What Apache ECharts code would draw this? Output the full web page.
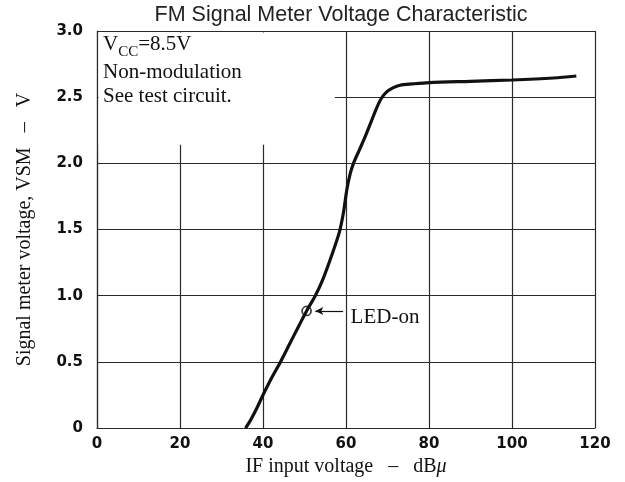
<!DOCTYPE html>
<html>
<head>
<meta charset="utf-8">
<script src="https://cdn.jsdelivr.net/npm/echarts@6/dist/echarts.min.js"></script>
<style>
html,body{margin:0;padding:0;background:#fff;}
#chart{width:625px;height:482px;}
</style>
</head>
<body>
<div id="chart"></div>
<script>
// ---- data ----
const inputDb = [35.8, 37, 38.5, 40, 42, 44.2, 46.4, 48.6, 50.5, 52.6, 54.5, 56.5, 58.4, 59.4, 60.2, 61, 61.8, 63.2, 64.6, 66, 67.4, 68.5, 69.8, 71.3, 73, 76, 80, 90, 100, 110, 115.5];
const meterV = [0, 0.06, 0.15, 0.25, 0.375, 0.5, 0.635, 0.77, 0.885, 1.0, 1.13, 1.3, 1.48, 1.63, 1.8, 1.92, 2.0, 2.1, 2.2, 2.31, 2.42, 2.49, 2.54, 2.57, 2.59, 2.6, 2.61, 2.62, 2.63, 2.645, 2.66];
const ledOn = [50.5, 0.885];
const xTicks = [0, 20, 40, 60, 80, 100, 120];
const yTicks = [0, 0.5, 1.0, 1.5, 2.0, 2.5, 3.0];
const titleText = 'FM Signal Meter Voltage Characteristic';
const xName = 'IF input voltage   \u2013   dB{mu|\u03bc}';
const yName = 'Signal meter voltage, VSM   \u2013   V';
const notes = ['Non-modulation', 'See test circuit.'];

const chart = echarts.init(document.getElementById('chart'), null, {renderer: 'canvas'});
const serif = '"Liberation Serif", "Times New Roman", serif';
const sans = '"Liberation Sans", Arial, sans-serif';
const tickFont = '"DejaVu Sans", sans-serif';
const gridColor = '#2a2a2a';

chart.setOption({
  animation: false,
  backgroundColor: '#fff',
  grid: {left: 97, right: 30, top: 31, bottom: 50},
  xAxis: {
    type: 'value', min: xTicks[0], max: xTicks[xTicks.length - 1], interval: 20,
    name: xName, nameLocation: 'middle', nameGap: 26,
    nameTextStyle: {fontFamily: serif, fontSize: 20, color: '#111',
      rich: {mu: {fontFamily: serif, fontSize: 20, fontStyle: 'italic', color: '#111'}}},
    axisLine: {show: true, lineStyle: {color: gridColor, width: 1.2}},
    axisTick: {show: false},
    axisLabel: {margin: 9, fontFamily: tickFont, fontWeight: 'bold', fontSize: 15, color: '#111'},
    splitLine: {show: true, lineStyle: {color: gridColor, width: 1.2}}
  },
  yAxis: {
    type: 'value', min: yTicks[0], max: yTicks[yTicks.length - 1], interval: 0.5,
    name: yName, nameLocation: 'middle', nameGap: 62,
    nameTextStyle: {fontFamily: serif, fontSize: 20, color: '#111'},
    axisLine: {show: true, lineStyle: {color: gridColor, width: 1.2}},
    axisTick: {show: false},
    axisLabel: {margin: 14, fontFamily: tickFont, fontWeight: 'bold', fontSize: 15, color: '#111',
      formatter: v => (v === 0 ? '0' : v.toFixed(1))},
    splitLine: {show: true, lineStyle: {color: gridColor, width: 1.2}}
  },
  series: [
    {
      type: 'line', data: inputDb.map((x, i) => [x, meterV[i]]),
      smooth: 0.3, showSymbol: false, z: 5,
      lineStyle: {color: '#111', width: 3.2},
      markLine: {
        silent: true, symbol: ['arrow', 'none'], symbolSize: [6, 8],
        label: {show: false},
        lineStyle: {color: '#111', width: 1.2, type: 'solid'},
        data: [[{coord: [ledOn[0] + 2.1, ledOn[1]]}, {coord: [ledOn[0] + 8.8, ledOn[1]]}]]
      }
    },
    {
      type: 'scatter', data: [ledOn], symbol: 'circle', symbolSize: 9, z: 6,
      itemStyle: {color: 'rgba(0,0,0,0)', borderColor: '#111', borderWidth: 1.8}
    }
  ]
});

function px(p) { return chart.convertToPixel({gridIndex: 0}, p); }
const tl = px([0, 3.0]);
const br = px([57.3, 2.14]);
const led = px([ledOn[0] + 10.6, ledOn[1]]);
const noteX = tl[0] + 6;

chart.setOption({
  graphic: [
    {type: 'rect', z: 1, silent: true,
      shape: {x: tl[0] + 1.5, y: tl[1] + 1.5, width: br[0] - tl[0] - 1.5, height: br[1] - tl[1] - 1.5},
      style: {fill: '#fff'}},
    {type: 'text', z: 10, x: 341, y: 15,
      style: {text: titleText, font: '21.5px ' + sans, fill: '#222', textAlign: 'center', textVerticalAlign: 'middle'}},
    {type: 'text', z: 10, x: noteX, y: 44,
      style: {
        text: '{v|V}{s|CC}{v|=8.5V}',
        rich: {
          v: {font: '21px ' + serif, fill: '#111', verticalAlign: 'bottom'},
          s: {font: '15px ' + serif, fill: '#111', verticalAlign: 'bottom', padding: [0, 0, -5, 0]}
        },
        textVerticalAlign: 'middle'
      }},
    {type: 'text', z: 10, x: noteX, y: 72,
      style: {text: notes[0], font: '21px ' + serif, fill: '#111', textVerticalAlign: 'middle'}},
    {type: 'text', z: 10, x: noteX, y: 96,
      style: {text: notes[1], font: '21px ' + serif, fill: '#111', textVerticalAlign: 'middle'}},
    {type: 'text', z: 10, x: led[0], y: led[1] + 7,
      style: {text: 'LED-on', font: '21px ' + serif, fill: '#111', textVerticalAlign: 'middle'}}
  ]
});
</script>
</body>
</html>
